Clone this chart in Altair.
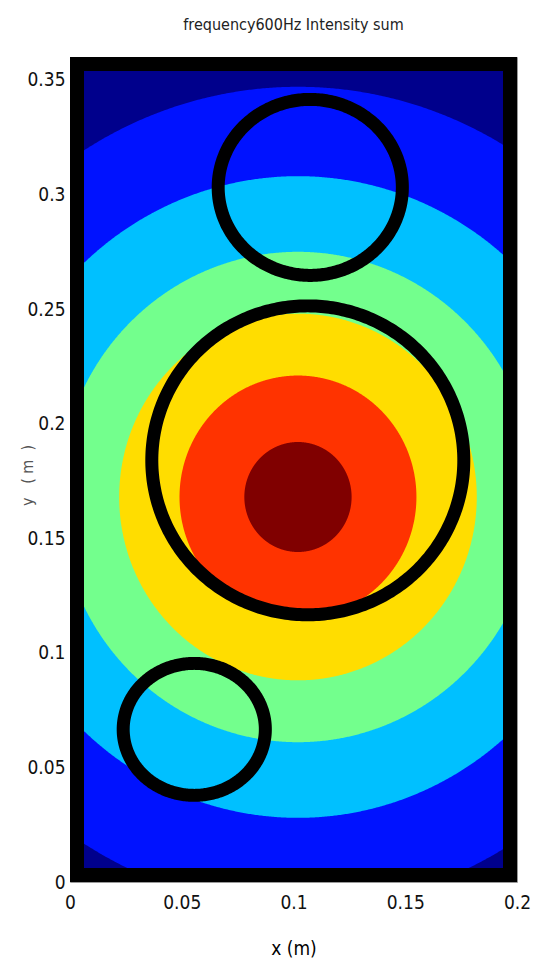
import altair as alt
import numpy as np
import pandas as pd

# Field extent (m)
x_domain = [0.0, 0.2]
y_domain = [0.0, 0.36]

# Intensity contour bands: concentric levels around the source point
source_x = 0.102
source_y = 0.168
band_radius = [0.179, 0.140, 0.107, 0.080, 0.053, 0.024]
band_color = ["#0012ff", "#00c0ff", "#73ff8d", "#ffdd00", "#ff3300", "#800000"]
outer_color = "#00008c"

# Black outlines of the three objects (centre and semi-axes, m)
ring_cx = [0.1075, 0.1064, 0.0556]
ring_cy = [0.3031, 0.1840, 0.0666]
ring_rx = [0.0412, 0.0698, 0.0318]
ring_ry = [0.0384, 0.0674, 0.0288]

x_ticks = [0, 0.05, 0.1, 0.15, 0.2]
y_ticks = [0, 0.05, 0.1, 0.15, 0.2, 0.25, 0.3, 0.35]

FONT = "DejaVu Sans Condensed"
NB = "\u00a0"

xs = alt.Scale(domain=x_domain, nice=False, zero=False)
ys = alt.Scale(domain=y_domain, nice=False, zero=False)

box = pd.DataFrame({"x": [x_domain[0]], "x2": [x_domain[1]],
                    "y": [y_domain[0]], "y2": [y_domain[1]]})

background = alt.Chart(box).mark_rect(color=outer_color).encode(
    x=alt.X("x:Q", scale=xs,
            axis=alt.Axis(values=x_ticks, format="~g", ticks=False, domain=False,
                          grid=False, labelPadding=11, labelFlush=False,
                          title="x (m)", titleY=66, titleBaseline="middle",
                          titleFontSize=19, titleFontWeight="normal")),
    x2="x2:Q",
    y=alt.Y("y:Q", scale=ys,
            axis=alt.Axis(values=y_ticks, format="~g", ticks=False, domain=False,
                          grid=False, labelPadding=5, labelFlush=False,
                          title=f"y{NB}{NB}{NB}({NB}m{NB}{NB})", titleX=-43,
                          titleY=418, titleBaseline="middle", titleFontSize=16,
                          titleColor="#555", titleFontWeight="normal")),
    y2="y2:Q",
)

layers = [background]

t = np.linspace(0.0, np.pi, 721)
for r, c in zip(band_radius, band_color):
    df = pd.DataFrame({
        "x": source_x + r * np.cos(t),
        "y": source_y + r * np.sin(t),
        "y2": source_y - r * np.sin(t),
    })
    layers.append(
        alt.Chart(df).mark_area(color=c, clip=True, opacity=1).encode(
            x=alt.X("x:Q", scale=xs), y=alt.Y("y:Q", scale=ys), y2="y2:Q"
        )
    )

u = np.linspace(0.0, 2 * np.pi, 361)
ring_rows = []
for i, (cx, cy, rx, ry) in enumerate(zip(ring_cx, ring_cy, ring_rx, ring_ry)):
    for k, a in enumerate(u):
        ring_rows.append({"ring": i, "k": k,
                          "x": cx + rx * np.cos(a), "y": cy + ry * np.sin(a)})
rings = pd.DataFrame(ring_rows)

layers.append(
    alt.Chart(rings).mark_line(color="black", strokeWidth=13, clip=True,
                               strokeCap="round", strokeJoin="round").encode(
        x=alt.X("x:Q", scale=xs), y=alt.Y("y:Q", scale=ys),
        detail="ring:N", order="k:Q"
    )
)

# Thick black frame: a doubled stroke clipped to the plot area
layers.append(
    alt.Chart(box).mark_rect(filled=False, stroke="black", strokeWidth=28,
                             clip=True).encode(
        x=alt.X("x:Q", scale=xs), x2="x2:Q",
        y=alt.Y("y:Q", scale=ys), y2="y2:Q"
    )
)

chart = alt.layer(*layers).properties(
    width=447,
    height=825,
    padding={"left": 70, "top": 57, "right": 16, "bottom": 88},
    autosize=alt.AutoSizeParams(type="none"),
    background="white",
    title=alt.TitleParams("frequency600Hz Intensity sum", fontSize=16,
                          font=FONT, fontWeight="normal", color="#222",
                          offset=16, baseline="middle"),
).configure_view(
    stroke="#999", strokeWidth=1
).configure_axis(
    labelFont=FONT, labelFontSize=19, labelColor="#111", titleFont=FONT
)

chart.save("out.html", embed_options={"renderer": "svg", "actions": False})
